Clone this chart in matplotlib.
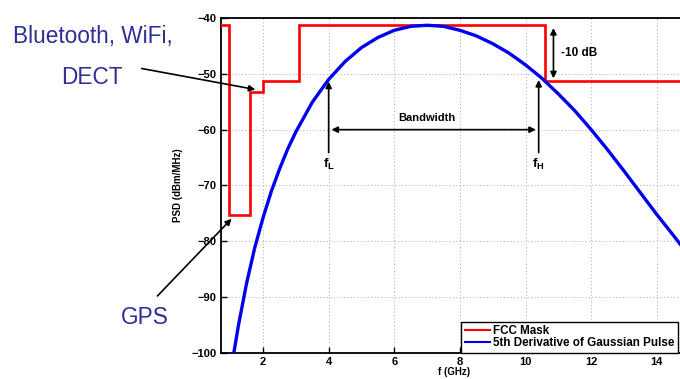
import matplotlib
matplotlib.use("Agg")
import matplotlib.pyplot as plt

plt.rcParams['font.family'] = ['Liberation Sans', 'DejaVu Sans']
plt.rcParams['mathtext.fontset'] = 'custom'
plt.rcParams['mathtext.bf'] = 'Liberation Sans:bold'
plt.rcParams['mathtext.rm'] = 'Liberation Sans'

# FCC indoor mask (step levels between edges)
mask_edges = [0.5, 0.96, 1.61, 1.99, 3.1, 10.6, 16.0]
mask_levels = [-41.3, -75.3, -53.3, -51.3, -41.3, -51.3]

# 5th derivative of Gaussian pulse PSD
pulse_f = [1.1, 1.25, 1.5, 1.75, 2.0, 2.25, 2.5, 2.75, 3.0, 3.5, 4.0, 4.5, 5.0,
           5.5, 6.0, 6.5, 7.0, 7.5, 8.0, 8.5, 9.0, 9.5, 10.0, 10.5, 11.0, 11.5,
           12.0, 12.5, 13.0, 13.5, 14.0, 14.5, 15.0]
pulse_psd = [-100.4, -95.1, -87.5, -81.1, -75.8, -71.1, -67.1, -63.5, -60.4,
             -55.1, -51.0, -47.8, -45.3, -43.5, -42.2, -41.5, -41.3, -41.5,
             -42.2, -43.2, -44.6, -46.3, -48.4, -50.8, -53.6, -56.6, -60.0,
             -63.6, -67.4, -71.3, -75.2, -78.9, -82.7]

x_ticks = [2, 4, 6, 8, 10, 12, 14]
y_ticks = [-40, -50, -60, -70, -80, -90, -100]

W, H = 680, 379
fig = plt.figure(figsize=(W / 100, H / 100), dpi=100)
ax = fig.add_axes([221 / W, (H - 353) / H, (688 - 221) / W, (353 - 18) / H])

ax.stairs(mask_levels, mask_edges, baseline=None, color='#ff0000', lw=1.9,
          label='FCC Mask', zorder=3)
ax.plot(pulse_f, pulse_psd, color='#0000ee', lw=2.4,
        label='5th Derivative of Gaussian Pulse', zorder=4)

ax.set_xlim(0.72, 14.95)
ax.set_ylim(-100, -40)
ax.set_xticks(x_ticks)
ax.set_yticks(y_ticks)
ax.grid(True, color='#a8a8a8', lw=0.7, linestyle=(0, (1, 2.5)))
ax.tick_params(direction='in', length=4, width=1, labelsize=8, pad=3)
for lab in ax.get_xticklabels() + ax.get_yticklabels():
    lab.set_fontweight('bold')
for sp in ax.spines.values():
    sp.set_linewidth(1.3)
ax.set_xlabel('f (GHz)', fontsize=7, fontweight='bold', labelpad=0)
ax.set_ylabel('PSD (dBm/MHz)', fontsize=7, fontweight='bold', labelpad=6)

leg = ax.legend(loc='lower left', bbox_to_anchor=(0.514, 0.0), fancybox=False,
                edgecolor='black', framealpha=1, borderpad=0.3,
                handlelength=2.2, handletextpad=0.25, labelspacing=0.0,
                borderaxespad=0, prop={'size': 8.4, 'weight': 'bold'})
leg.get_frame().set_linewidth(1.0)
for h in leg.get_lines():
    h.set_linewidth(1.5)

arrow_kw = dict(arrowstyle='-|>', color='black', lw=1.2, mutation_scale=9)
darrow_kw = dict(arrowstyle='<|-|>', color='black', lw=1.2, mutation_scale=9)

# f_L and f_H markers
ax.annotate('', xy=(4.0, -50.9), xytext=(4.0, -64.6), arrowprops=arrow_kw)
ax.annotate('', xy=(10.4, -50.6), xytext=(10.4, -64.6), arrowprops=arrow_kw)
ax.text(4.0, -66.3, r'$\mathbf{f_L}$', ha='center', va='center', fontsize=9.5)
ax.text(10.4, -66.3, r'$\mathbf{f_H}$', ha='center', va='center', fontsize=9.5)

# Bandwidth
ax.annotate('', xy=(4.0, -60.0), xytext=(10.4, -60.0), arrowprops=darrow_kw)
ax.text(7.0, -58.0, 'Bandwidth', ha='center', va='center', fontsize=8,
        fontweight='bold')

# -10 dB
ax.annotate('', xy=(10.85, -41.3), xytext=(10.85, -51.3), arrowprops=darrow_kw)
ax.text(11.08, -46.3, '-10 dB', ha='left', va='center', fontsize=8.5,
        fontweight='bold')

# Outside annotations
tc = '#2e2e96'
fig.text(93 / W, (H - 37) / H, 'Bluetooth, WiFi,', ha='center', va='center',
         fontsize=16.3, color=tc)
fig.text(92 / W, (H - 78) / H, 'DECT', ha='center', va='center',
         fontsize=16.3, color=tc)
fig.text(145 / W, (H - 318) / H, 'GPS', ha='center', va='center',
         fontsize=16.3, color=tc)

ax.annotate('', xy=(1.85, -52.9), xytext=(139, H - 68),
            textcoords='figure pixels', arrowprops=arrow_kw,
            annotation_clip=False)
ax.annotate('', xy=(1.1, -75.6), xytext=(155.5, H - 298),
            textcoords='figure pixels', arrowprops=arrow_kw,
            annotation_clip=False)

fig.savefig('out.png', dpi=100)
